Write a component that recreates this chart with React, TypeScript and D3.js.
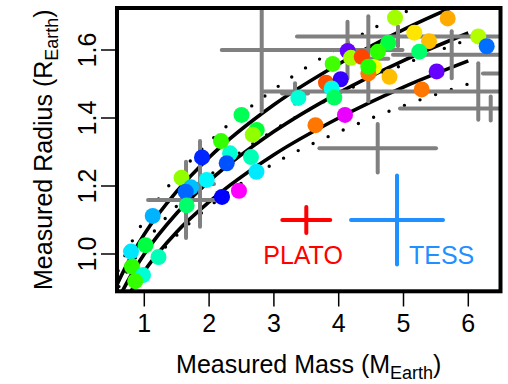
import React from "react";
import * as d3 from "d3";

const W = 508;
const H = 384;

const massTicks = [1, 2, 3, 4, 5, 6];
const radiusTicks = [1.0, 1.2, 1.4, 1.6];

// Simulated planets: measured mass, radius and a colour hue per planet
const planetMass = [
  1.89, 2.323, 2.272, 1.963, 1.574, 1.721, 1.639, 1.654, 2.199, 2.461,
  1.13, 1.019, 0.795, 1.219, 0.81, 0.98, 0.86, 2.5, 2.184, 2.735,
  2.674, 2.647, 2.731, 3.377, 3.804, 4.031, 3.892, 3.932, 3.642, 4.097,
  3.907, 4.139, 4.19, 4.355, 4.545, 4.457, 4.457, 4.784, 4.869, 5.682,
  5.167, 5.394, 4.765, 4.606, 5.244, 6.154, 6.284, 5.512, 5.281,
];
const planetRadius = [
  1.284, 1.296, 1.267, 1.218, 1.224, 1.196, 1.183, 1.143, 1.168, 1.186,
  1.112, 1.026, 1.007, 0.991, 0.963, 0.938, 0.92, 1.409, 1.332, 1.365,
  1.351, 1.285, 1.242, 1.459, 1.504, 1.514, 1.487, 1.46, 1.379, 1.409,
  1.559, 1.597, 1.577, 1.58, 1.55, 1.531, 1.551, 1.521, 1.695, 1.693,
  1.651, 1.626, 1.621, 1.595, 1.595, 1.64, 1.611, 1.537, 1.484,
];
const planetHue = [
  231, 170, 221, 182, 86, 195, 216, 145, 240, 300,
  198, 135, 186, 163, 110, 170, 108, 140, 108, 133,
  86, 163, 185, 170, 19, 252, 175, 142, 28, 295,
  105, 264, 82, 16, 62, 28, 112, 45, 82, 40,
  54, 45, 135, 110, 145, 78, 214, 264, 28,
];

// Known planets with their measurement uncertainties
const knownMass = [2.812, 4.136, 4.457, 4.915, 5.744, 6.154, 6.346, 6.566, 4.602, 1.644, 1.86, 3.326];
const knownMassErr = [0.617, 0.849, 0.309, 1.559, 0.906, 3.333, 1.4, 0.34, 0.9, 0.586, 0.216, 0.2];
const knownRadius = [1.6, 1.6, 1.574, 1.64, 1.586, 1.478, 1.428, 1.531, 1.311, 1.159, 1.206, 1.472];
const knownRadiusErr = [0.181, 0.083, 0.125, 0.029, 0.069, 0.083, 0.035, 0.03, 0.0715, 0.112, 0.126, 0.03];

// Mass-radius relations
const curveMass = [0.5, 0.6, 0.8, 1, 1.5, 2, 3, 4, 5, 6];
const radiusUpper = [0.873, 0.918, 0.994, 1.058, 1.184, 1.284, 1.439, 1.559, 1.66, 1.746];
const radiusMiddle = [0.824, 0.867, 0.939, 1.0, 1.12, 1.214, 1.36, 1.474, 1.569, 1.65];
const radiusLower = [0.783, 0.824, 0.892, 0.95, 1.065, 1.153, 1.292, 1.4, 1.491, 1.568];
const dottedUpper = [0.906, 0.953, 1.033, 1.1, 1.229, 1.329, 1.484, 1.607, 1.709, 1.795];
const dottedMiddle = [0.86, 0.901, 0.97, 1.028, 1.141, 1.229, 1.364, 1.47, 1.557, 1.631];
const dottedLower = [0.777, 0.818, 0.888, 0.945, 1.055, 1.139, 1.266, 1.359, 1.436, 1.5];

// Typical survey precision shown next to the labels
const surveyName = ["PLATO", "TESS"];
const surveyMass = [3.5, 4.9];
const surveyMassErr = [0.37, 0.71];
const surveyRadius = [1.1, 1.1];
const surveyRadiusErr = [0.038, 0.131];

const FONT = "'Liberation Sans', Arial, Helvetica, sans-serif";

export default function App() {
  const left = 117;
  const right = 500.5;
  const top = 8;
  const bottom = 291.3;

  const x = d3.scaleLinear().domain([1, 6]).range([144.3, 468.3]);
  const y = d3.scaleLinear().domain([1.0, 1.6]).range([254, 50]);

  const line = (rs: number[]) =>
    d3
      .line<number>()
      .x((_, i) => x(curveMass[i]))
      .y((r) => y(r))
      .curve(d3.curveMonotoneX)(rs) as string;

  const surveyColor = ["#ff0000", "#1e90ff"];

  return (
    <svg width={W} height={H} style={{ position: "absolute", left: 0, top: 0, background: "#fff" }}>
      <defs>
        <clipPath id="plot">
          <rect x={left} y={top} width={right - left} height={bottom - top} />
        </clipPath>
      </defs>
      <g clipPath="url(#plot)">
        {[radiusUpper, radiusMiddle, radiusLower].map((rs, i) => (
          <path key={"s" + i} d={line(rs)} fill="none" stroke="#000" strokeWidth={3.6} />
        ))}
        {[dottedUpper, dottedMiddle, dottedLower].map((rs, i) => (
          <path
            key={"d" + i}
            d={line(rs)}
            fill="none"
            stroke="#000"
            strokeWidth={3.4}
            strokeLinecap="round"
            strokeDasharray="0 16.5"
          />
        ))}
        {knownMass.map((m, i) => (
          <g key={"k" + i} stroke="#808080" strokeWidth={4} strokeLinecap="round">
            <line x1={x(m - knownMassErr[i])} x2={x(m + knownMassErr[i])} y1={y(knownRadius[i])} y2={y(knownRadius[i])} />
            <line x1={x(m)} x2={x(m)} y1={y(knownRadius[i] - knownRadiusErr[i])} y2={y(knownRadius[i] + knownRadiusErr[i])} />
          </g>
        ))}
        {planetMass.map((m, i) => (
          <circle key={"p" + i} cx={x(m)} cy={y(planetRadius[i])} r={8} fill={d3.hsl(planetHue[i], 1, 0.5).toString()} />
        ))}
        {surveyName.map((n, i) => (
          <g key={"v" + i} stroke={surveyColor[i]} strokeWidth={4} strokeLinecap="round">
            <line x1={x(surveyMass[i] - surveyMassErr[i])} x2={x(surveyMass[i] + surveyMassErr[i])} y1={y(surveyRadius[i])} y2={y(surveyRadius[i])} />
            <line x1={x(surveyMass[i])} x2={x(surveyMass[i])} y1={y(surveyRadius[i] - surveyRadiusErr[i])} y2={y(surveyRadius[i] + surveyRadiusErr[i])} />
          </g>
        ))}
      </g>
      <text x={x(3.45)} y={263.5} textAnchor="middle" fontFamily={FONT} fontSize={25} fill={surveyColor[0]}>
        {surveyName[0]}
      </text>
      <text x={409} y={263.5} textAnchor="start" fontFamily={FONT} fontSize={25} fill={surveyColor[1]}>
        {surveyName[1]}
      </text>

      <rect x={left} y={top} width={right - left} height={bottom - top} fill="none" stroke="#000" strokeWidth={4} />

      {massTicks.map((t) => (
        <g key={"xt" + t}>
          <line x1={x(t)} x2={x(t)} y1={bottom} y2={306.5} stroke="#000" strokeWidth={1.5} />
          <text x={x(t)} y={332} textAnchor="middle" fontFamily={FONT} fontSize={25}>
            {t}
          </text>
        </g>
      ))}
      {radiusTicks.map((t) => (
        <g key={"yt" + t}>
          <line x1={101} x2={left} y1={y(t)} y2={y(t)} stroke="#000" strokeWidth={1.5} />
          <text
            transform={`translate(96,${y(t)}) rotate(-90)`}
            textAnchor="middle"
            fontFamily={FONT}
            fontSize={25}
          >
            {t.toFixed(1)}
          </text>
        </g>
      ))}

      <text x={(left + right) / 2} y={373} textAnchor="middle" fontFamily={FONT} fontSize={25}>
        Measured Mass (M
        <tspan fontSize={18} dy={6}>Earth</tspan>
        <tspan dy={-6}>)</tspan>
      </text>
      <text
        transform={`translate(52,${(top + bottom) / 2}) rotate(-90)`}
        textAnchor="middle"
        fontFamily={FONT}
        fontSize={25}
      >
        Measured Radius (R
        <tspan fontSize={18} dy={6}>Earth</tspan>
        <tspan dy={-6}>)</tspan>
      </text>
    </svg>
  );
}
